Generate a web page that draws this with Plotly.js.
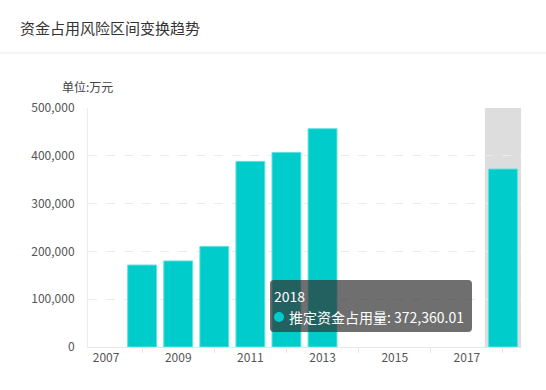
<!DOCTYPE html>
<html>
<head>
<meta charset="utf-8">
<script src="https://cdn.plot.ly/plotly-3.0.1.min.js"></script>
<style>
html,body{margin:0;padding:0;background:#fff;}
#chart{width:546px;height:390px;}
</style>
</head>
<body>
<div id="chart"></div>
<script>
var years = [2007, 2008, 2009, 2010, 2011, 2012, 2013, 2014, 2015, 2016, 2017, 2018];
var values = [null, 171500, 180000, 210500, 388300, 407100, 456700, null, null, null, null, 372360.01];
var labelYears = [2007, 2009, 2011, 2013, 2015, 2017];
var tickYears = [2008, 2010, 2012, 2014, 2016, 2018];
var seriesName = '推定资金占用量';
var highlightYear = 2018;

var W = 546, H = 390;
var mL = 88, mR = 25, mT = 108, mB = 43;
var pw = W - mL - mR, ph = H - mT - mB;
function px(x){ return (x - mL) / pw; }
function py(y){ return (H - mB - y) / ph; }

var FONT = '"Noto Sans CJK SC", "Noto Sans", sans-serif';
var barColor = '#00cccc';

// tooltip box (rounded)
var bx0 = 270, bx1 = 472, by0 = 280, by1 = 332, r = 4;
function roundRect(x0, y0, x1, y1, r){
  var p = 'M' + px(x0 + r) + ',' + py(y0) +
    ' L' + px(x1 - r) + ',' + py(y0) +
    ' Q' + px(x1) + ',' + py(y0) + ' ' + px(x1) + ',' + py(y0 + r) +
    ' L' + px(x1) + ',' + py(y1 - r) +
    ' Q' + px(x1) + ',' + py(y1) + ' ' + px(x1 - r) + ',' + py(y1) +
    ' L' + px(x0 + r) + ',' + py(y1) +
    ' Q' + px(x0) + ',' + py(y1) + ' ' + px(x0) + ',' + py(y1 - r) +
    ' L' + px(x0) + ',' + py(y0 + r) +
    ' Q' + px(x0) + ',' + py(y0) + ' ' + px(x0 + r) + ',' + py(y0) + ' Z';
  return p;
}

var hv = values[years.indexOf(highlightYear)];
var hvText = hv.toLocaleString('en-US', {minimumFractionDigits: 2, maximumFractionDigits: 2});

var trace = {
  type: 'bar',
  x: years,
  y: values,
  name: seriesName,
  marker: {color: barColor, line: {color: '#5fe0e0', width: 1}},
  hoverinfo: 'none'
};

var layout = {
  width: W, height: H,
  margin: {l: mL, r: mR, t: mT, b: mB, pad: 0},
  paper_bgcolor: '#fff',
  plot_bgcolor: '#fff',
  showlegend: false,
  bargap: 0.2,
  font: {family: FONT, size: 12, color: '#666'},
  xaxis: {
    type: 'linear',
    range: [years[0] - 0.5, years[years.length - 1] + 0.5],
    tickmode: 'array',
    tickvals: labelYears,
    ticktext: labelYears.map(String),
    ticks: '', 
    showgrid: false,
    zeroline: false,
    showline: true,
    linecolor: '#e6e6e6',
    linewidth: 1,
    tickfont: {family: FONT, size: 12, color: '#555'},
    minor: {tickmode: 'array', tickvals: tickYears, ticks: 'outside', ticklen: 5, tickcolor: '#e6e6e6', showgrid: false},
    fixedrange: true
  },
  yaxis: {
    range: [0, 500000],
    tickvals: [0, 100000, 200000, 300000, 400000, 500000],
    ticktext: ['0', '100,000', '200,000', '300,000', '400,000', '500,000'],
    showgrid: true,
    gridcolor: '#ececec',
    griddash: 'dash',
    gridwidth: 1,
    zeroline: false,
    showline: true,
    linecolor: '#ececec',
    ticks: '',
    ticklabelstandoff: 10,
    tickfont: {family: FONT, size: 12, color: '#555'},
    fixedrange: true
  },
  shapes: [
    {type: 'rect', xref: 'x', yref: 'paper', x0: highlightYear - 0.5, x1: highlightYear + 0.5, y0: 0, y1: 1,
     fillcolor: '#dddddd', line: {width: 0}, layer: 'below'},
    {type: 'line', xref: 'paper', yref: 'paper', x0: px(0), x1: px(W), y0: py(53), y1: py(53),
     line: {color: '#e8e8e8', width: 1}},
    {type: 'path', xref: 'paper', yref: 'paper', path: roundRect(bx0, by0, bx1, by1, r),
     fillcolor: 'rgba(50,50,50,0.7)', line: {width: 0}, layer: 'above'},
    {type: 'circle', xref: 'paper', yref: 'paper', x0: px(274), x1: px(284), y0: py(312), y1: py(322),
     fillcolor: barColor, line: {width: 0}, layer: 'above'}
  ],
  annotations: [
    {xref: 'paper', yref: 'paper', x: px(18), y: py(27), xanchor: 'left', yanchor: 'middle', showarrow: false,
     text: '资金占用风险区间变换趋势', font: {family: FONT, size: 15, color: '#333'}},
    {xref: 'paper', yref: 'paper', x: px(60), y: py(86), xanchor: 'left', yanchor: 'middle', showarrow: false,
     text: '单位:万元', font: {family: FONT, size: 12, color: '#444'}},
    {xref: 'paper', yref: 'paper', x: px(272), y: py(296), xanchor: 'left', yanchor: 'middle', showarrow: false,
     text: String(highlightYear), font: {family: FONT, size: 14, color: '#fff'}},
    {xref: 'paper', yref: 'paper', x: px(287), y: py(317), xanchor: 'left', yanchor: 'middle', showarrow: false,
     text: seriesName + ': ' + hvText, font: {family: FONT, size: 14, color: '#fff'}}
  ]
};

Plotly.newPlot('chart', [trace], layout, {displayModeBar: false, staticPlot: true});
</script>
</body>
</html>
